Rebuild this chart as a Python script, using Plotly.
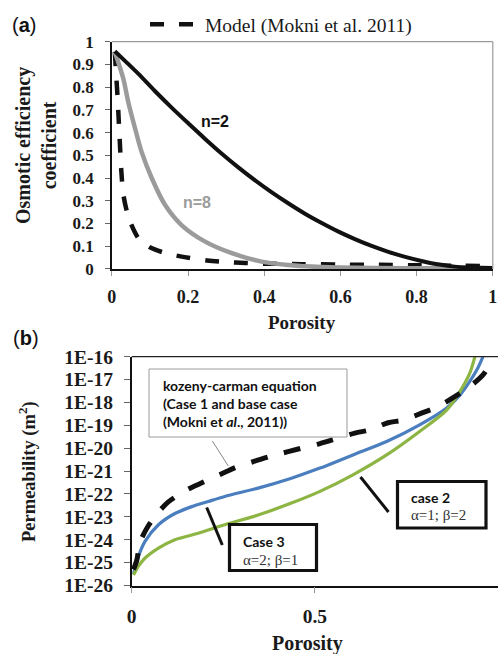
import plotly.graph_objects as go

W, H = 498, 654

# ---------------- Panel (a) data ----------------
phi_n2 = [0.008, 0.04, 0.07, 0.113, 0.157, 0.2, 0.245, 0.288, 0.332, 0.376, 0.42, 0.463, 0.507, 0.551, 0.595,
          0.638, 0.682, 0.726, 0.77, 0.813, 0.86, 0.9, 0.95, 1.0]
eff_n2 = [0.958, 0.907, 0.858, 0.783, 0.71, 0.642, 0.572, 0.508, 0.447, 0.39, 0.337, 0.289, 0.243, 0.202, 0.164,
          0.131, 0.101, 0.075, 0.053, 0.035, 0.019, 0.01, 0.006, 0.004]

phi_n8 = [0.008, 0.03, 0.043, 0.061, 0.078, 0.105, 0.14, 0.183, 0.245, 0.315, 0.393, 0.463, 0.55, 0.7, 0.85, 1.0]
eff_n8 = [0.955, 0.839, 0.736, 0.619, 0.516, 0.399, 0.281, 0.193, 0.12, 0.069, 0.032, 0.017, 0.008, 0.004, 0.003, 0.003]

phi_model = [0.008, 0.012, 0.015, 0.018, 0.021, 0.025, 0.03, 0.04, 0.05, 0.07, 0.1, 0.14, 0.18, 0.25,
             0.3, 0.35, 0.4, 0.5, 0.6, 0.7, 0.8, 0.9, 1.0]
eff_model = [0.955, 0.84, 0.76, 0.66, 0.56, 0.43, 0.33, 0.25, 0.2, 0.135, 0.095, 0.07, 0.055, 0.037,
             0.03, 0.026, 0.023, 0.021, 0.019, 0.018, 0.016, 0.014, 0.012]

a_xticks = [0, 0.2, 0.4, 0.6, 0.8, 1]
a_xticktext = ["0", "0.2", "0.4", "0.6", "0.8", "1"]
a_yticks = [0, 0.1, 0.2, 0.3, 0.4, 0.5, 0.6, 0.7, 0.8, 0.9, 1]
a_yticktext = ["0", "0.1", "0.2", "0.3", "0.4", "0.5", "0.6", "0.7", "0.8", "0.9", "1"]

# ---------------- Panel (b) data ----------------
phi_kc = [0.005, 0.014, 0.023, 0.045, 0.073, 0.1, 0.15, 0.19, 0.24, 0.286, 0.332, 0.377, 0.427, 0.473,
          0.514, 0.609, 0.65, 0.7, 0.741, 0.791, 0.836, 0.882, 0.918, 0.959, 0.982]
perm_kc = [5.0e-26, 1.3e-25, 7.9e-25, 4.0e-24, 1.6e-23, 4.5e-23, 1.5e-22, 3.0e-22, 6.9e-22, 1.5e-21,
           2.6e-21, 4.4e-21, 7.1e-21, 1.1e-20, 1.6e-20, 4.6e-20, 6.3e-20, 1.3e-19, 1.7e-19, 3.4e-19,
           6.6e-19, 1.8e-18, 4.3e-18, 1.6e-17, 6.3e-17]

phi_case3 = [0.005, 0.018, 0.036, 0.073, 0.118, 0.164, 0.209, 0.254, 0.345, 0.436, 0.514, 0.604, 0.696,
             0.786, 0.859, 0.896, 0.923, 0.945, 0.959]
perm_case3 = [3.2e-26, 1.8e-25, 8.3e-25, 4.5e-24, 1.4e-23, 2.8e-23, 4.7e-23, 7.8e-23, 1.8e-22, 4.9e-22,
              1.35e-21, 5.1e-21, 1.95e-20, 1.05e-19, 5.6e-19, 2.1e-18, 8.3e-18, 3.2e-17, 1.0e-16]

phi_case2 = [0.005, 0.018, 0.036, 0.073, 0.118, 0.164, 0.254, 0.345, 0.436, 0.514, 0.604, 0.696, 0.786,
             0.859, 0.896, 0.923, 0.937]
perm_case2 = [2.9e-26, 6.8e-26, 1.55e-25, 4.3e-25, 1.0e-24, 1.6e-24, 4.5e-24, 1.2e-23, 4.0e-23, 1.3e-22,
              6.9e-22, 5.1e-21, 5.4e-20, 4.5e-19, 3.0e-18, 1.9e-17, 1.0e-16]

b_xticks = [0, 0.5, 1]
b_xticktext = ["0", "0.5", "1"]
b_yticks = [1e-26, 1e-25, 1e-24, 1e-23, 1e-22, 1e-21, 1e-20, 1e-19, 1e-18, 1e-17, 1e-16]
b_yticktext = ["1E-26", "1E-25", "1E-24", "1E-23", "1E-22", "1E-21", "1E-20", "1E-19", "1E-18", "1E-17", "1E-16"]


def px(x):
    return x / W


def py(y):
    return 1 - y / H


SERIF = "Liberation Serif"
SANS = "Lato"
ARIAL = "Liberation Sans"

fig = go.Figure()

# panel (a) traces
fig.add_trace(go.Scatter(x=phi_model, y=eff_model, mode="lines", name="Model (Mokni et al. 2011)",
                         line=dict(color="#111111", width=4.5, dash="14px,15px", shape="spline", smoothing=0.8),
                         xaxis="x", yaxis="y", showlegend=True))
fig.add_trace(go.Scatter(x=phi_n8, y=eff_n8, mode="lines", name="n=8",
                         line=dict(color="#9b9b9b", width=4.5, shape="spline", smoothing=0.8),
                         xaxis="x", yaxis="y", showlegend=False))
fig.add_trace(go.Scatter(x=phi_n2, y=eff_n2, mode="lines", name="n=2",
                         line=dict(color="#111111", width=4, shape="spline", smoothing=0.8),
                         xaxis="x", yaxis="y", showlegend=False))

# panel (b) traces
fig.add_trace(go.Scatter(x=phi_case3, y=perm_case3, mode="lines", name="Case 3",
                         line=dict(color="#4a7ebf", width=3.2, shape="spline", smoothing=0.8),
                         xaxis="x2", yaxis="y2", showlegend=False))
fig.add_trace(go.Scatter(x=phi_case2, y=perm_case2, mode="lines", name="case 2",
                         line=dict(color="#8db543", width=3.2, shape="spline", smoothing=0.8),
                         xaxis="x2", yaxis="y2", showlegend=False))
fig.add_trace(go.Scatter(x=phi_kc, y=perm_kc, mode="lines", name="kozeny-carman equation",
                         line=dict(color="#111111", width=5, dash="17px,17px", shape="spline", smoothing=0.8),
                         xaxis="x2", yaxis="y2", showlegend=False))

axfont_a_y = dict(family=SERIF, size=17, color="#1a1a1a", weight="bold")
axfont_a_x = dict(family=SERIF, size=18, color="#1a1a1a", weight="bold")
axfont_b = dict(family=SERIF, size=19.5, color="#1a1a1a", weight="bold")

fig.update_layout(
    width=W, height=H,
    margin=dict(l=0, r=0, t=0, b=0),
    paper_bgcolor="white", plot_bgcolor="white",
    showlegend=True,
    legend=dict(x=px(145), y=py(5), xanchor="left", yanchor="top", orientation="h",
                font=dict(family=SERIF, size=19.5, color="#1a1a1a"), itemwidth=50,
                bgcolor="rgba(0,0,0,0)"),
    xaxis=dict(domain=[px(111.8), px(492.8)], range=[0, 1], tickvals=a_xticks, ticktext=a_xticktext,
               showgrid=False, zeroline=False, showline=True, linecolor="#111111", linewidth=1.5,
               ticks="outside", ticklen=5, tickcolor="#999999", tickfont=axfont_a_x,
               ticklabelstandoff=6, anchor="y", automargin=False),
    yaxis=dict(domain=[py(268.9), py(41.7)], range=[0, 1], tickvals=a_yticks, ticktext=a_yticktext,
               showgrid=False, zeroline=False, showline=True, linecolor="#111111", linewidth=1.5,
               ticks="outside", ticklen=5, tickcolor="#666666", tickfont=axfont_a_y,
               ticklabelstandoff=8, anchor="x", automargin=False),
    xaxis2=dict(domain=[px(131.7), 1.0], range=[0, 1], tickvals=b_xticks, ticktext=b_xticktext,
                showgrid=False, zeroline=False, showline=True, linecolor="#111111", linewidth=1.5,
                ticks="outside", ticklen=6, tickcolor="#999999", tickfont=axfont_b,
                ticklabelstandoff=6, anchor="y2", automargin=False),
    yaxis2=dict(domain=[py(585.5), py(356.7)], type="log", range=[-26, -16], tickvals=b_yticks,
                ticktext=b_yticktext, showgrid=False, zeroline=False, showline=True, linecolor="#111111",
                linewidth=1.5, ticks="outside", ticklen=6, tickcolor="#666666", tickfont=axfont_b,
                ticklabelstandoff=7, anchor="x2", automargin=False),
)

shapes = []
# panel (a) top and right frame (gray)
shapes.append(dict(type="line", xref="x domain", yref="y domain", x0=0, x1=1, y0=1, y1=1,
                   line=dict(color="#9a9a9a", width=1.2)))
shapes.append(dict(type="line", xref="x domain", yref="y domain", x0=1, x1=1, y0=0, y1=1,
                   line=dict(color="#9a9a9a", width=1.2)))
# panel (b) top frame (black)
shapes.append(dict(type="line", xref="x2 domain", yref="y2 domain", x0=0, x1=1, y0=1, y1=1,
                   line=dict(color="#222222", width=1.3)))

# annotation boxes (b)
shapes.append(dict(type="rect", xref="paper", yref="paper", x0=px(149), x1=px(347), y0=py(437), y1=py(369),
                   line=dict(color="#9a9a9a", width=1), fillcolor="white", layer="above"))
shapes.append(dict(type="rect", xref="paper", yref="paper", x0=px(397.5), x1=px(486), y0=py(528), y1=py(481.5),
                   line=dict(color="#111111", width=3.2), fillcolor="white", layer="above"))
shapes.append(dict(type="rect", xref="paper", yref="paper", x0=px(229.5), x1=px(316.5), y0=py(570.5), y1=py(524.5),
                   line=dict(color="#111111", width=3.2), fillcolor="white", layer="above"))
# leader lines
shapes.append(dict(type="line", xref="paper", yref="paper", x0=px(212.3), y0=py(441), x1=px(228.3), y1=py(466),
                   line=dict(color="#888888", width=1)))
shapes.append(dict(type="line", xref="paper", yref="paper", x0=px(360.5), y0=py(477), x1=px(388.5), y1=py(512),
                   line=dict(color="#111111", width=3)))
shapes.append(dict(type="line", xref="paper", yref="paper", x0=px(206.7), y0=py(507.5), x1=px(222.3), y1=py(545),
                   line=dict(color="#111111", width=3)))
fig.update_layout(shapes=shapes)

ann = []
# panel labels
ann.append(dict(text="(<b>a</b>)", x=px(10), y=py(25), xref="paper", yref="paper", xanchor="left",
                yanchor="middle", showarrow=False, font=dict(family=ARIAL, size=20, color="#111111")))
ann.append(dict(text="(<b>b</b>)", x=px(11), y=py(338), xref="paper", yref="paper", xanchor="left",
                yanchor="middle", showarrow=False, font=dict(family=ARIAL, size=20, color="#111111")))
# axis titles
ann.append(dict(text="<b>Osmotic efficiency<br>coefficient</b>", x=px(36), y=py(146), xref="paper", yref="paper",
                xanchor="center", yanchor="middle", textangle=-90, showarrow=False,
                font=dict(family=SERIF, size=20, color="#1a1a1a")))
ann.append(dict(text="<b>Porosity</b>", x=px(302), y=py(322), xref="paper", yref="paper",
                xanchor="center", yanchor="middle", showarrow=False,
                font=dict(family=SERIF, size=19, color="#1a1a1a")))
ann.append(dict(text="<b>Permeability (m<sup>2</sup>)</b>", x=px(27), y=py(472), xref="paper", yref="paper",
                xanchor="center", yanchor="middle", textangle=-90, showarrow=False,
                font=dict(family=SERIF, size=18.5, color="#1a1a1a")))
ann.append(dict(text="<b>Porosity</b>", x=px(307), y=py(643), xref="paper", yref="paper",
                xanchor="center", yanchor="middle", showarrow=False,
                font=dict(family=SERIF, size=20, color="#1a1a1a")))
# curve labels (a)
ann.append(dict(text="<b>n=2</b>", x=0.271, y=0.647, xref="x", yref="y", showarrow=False,
                font=dict(family=ARIAL, size=16, color="#111111")))
ann.append(dict(text="<b>n=8</b>", x=0.224, y=0.294, xref="x", yref="y", showarrow=False,
                font=dict(family=ARIAL, size=16, color="#9b9b9b")))
# box texts (b)
ann.append(dict(text="<b>kozeny-carman equation<br>(Case 1 and base case<br>(Mokni et <i>al</i>., 2011))</b>",
                x=px(161), y=py(403), xref="paper", yref="paper", xanchor="left", yanchor="middle",
                align="left", showarrow=False, font=dict(family=SANS, size=14, color="#111111")))
ann.append(dict(text="<b>case 2</b>", x=px(409), y=py(497), xref="paper", yref="paper", xanchor="left",
                yanchor="middle", showarrow=False, font=dict(family=SANS, size=14, color="#111111")))
ann.append(dict(text="α=1; β=2", x=px(409), y=py(514.5), xref="paper", yref="paper", xanchor="left",
                yanchor="middle", showarrow=False, font=dict(family=SERIF, size=15, color="#333333")))
ann.append(dict(text="<b>Case 3</b>", x=px(241), y=py(541.5), xref="paper", yref="paper", xanchor="left",
                yanchor="middle", showarrow=False, font=dict(family=SANS, size=14, color="#111111")))
ann.append(dict(text="α=2; β=1", x=px(241), y=py(559.5), xref="paper", yref="paper", xanchor="left",
                yanchor="middle", showarrow=False, font=dict(family=SERIF, size=15, color="#333333")))
fig.update_layout(annotations=ann)

fig.write_html("out.html", config={"displayModeBar": False},
               post_script="document.body.style.margin='0';document.body.style.padding='0';"
                           "document.body.style.overflow='hidden';")
